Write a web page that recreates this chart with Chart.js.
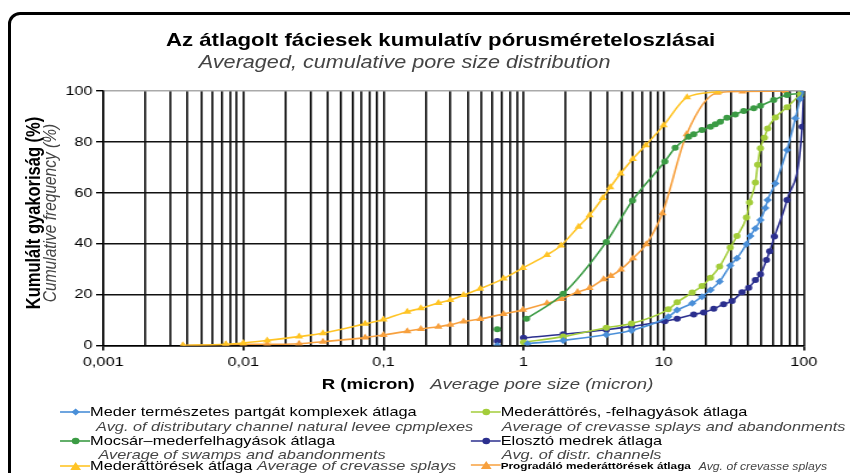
<!DOCTYPE html>
<html>
<head>
<meta charset="utf-8">
<script src="https://cdn.jsdelivr.net/npm/chart.js@4"></script>
<style>
html, body { margin: 0; padding: 0; background: #fff; width: 850px; height: 473px; overflow: hidden; }
#frame { position: absolute; left: 8px; top: 12px; width: 900px; height: 520px; border: 3px solid #000; border-radius: 12px; box-sizing: border-box; }
#stage { position: absolute; left: 0; top: 0; width: 708px; height: 473px; transform: scaleX(1.2006); transform-origin: 0 0; font-family: 'Liberation Sans', Arial, sans-serif; }
#stage canvas { position: absolute; left: 0; top: 0; }
.t { position: absolute; white-space: nowrap; color: #000; line-height: 18px; }
.c { transform: translateX(-50%); }
.it { font-style: italic; color: #444; }
.rot { transform: translate(-50%, -50%) rotate(-90deg); }
.leg { position: absolute; white-space: nowrap; font-size: 13.6px; line-height: 14px; }
.leg svg { vertical-align: -2px; }
</style>
</head>
<body>
<div id="frame"></div>
<div id="stage">
  <canvas id="myChart" width="708" height="473"></canvas>
  <div class="t c" style="left:367px; top:31px; font-size:18.5px; font-weight:bold;">Az átlagolt fáciesek kumulatív pórusméreteloszlásai</div>
  <div class="t c it" style="left:337px; top:53px; font-size:18px;">Averaged, cumulative pore size distribution</div>
  <div class="t" style="left:268px; top:375px; font-size:15.5px;"><b>R (micron)</b>&nbsp;&nbsp; <span class="it">Average pore size (micron)</span></div>
  <div class="t rot" style="left:27px; top:213px; font-size:16.5px; font-weight:bold;">Kumulált gyakoriság (%)</div>
  <div class="t rot it" style="left:42px; top:213px; font-size:15.5px;">Cumulative frequency (%)</div>
  <div id="legend"></div>
</div>
<script>
// x = pore radius (micron), y = cumulative frequency (%)
var lightBlueX = [0.65, 0.8, 1.07, 1.92, 3.9, 5.9, 10.8, 12.5, 16, 18.8, 21.6, 25.1, 29.9, 33.4, 39, 41.6, 45.2, 49.1, 53.2, 55.3, 62.8, 76, 87.3, 94.6, 100];
var lightBlueY = [0, null, 0.7, 2, 4.2, 5.9, 11.3, 13.9, 16.6, 19.2, 21.8, 25.1, 31.4, 34.3, 39.8, 43, 46, 49.3, 54, 57.2, 63.7, 76.8, 89.3, 97, 100];

var lightGreenX = [1.0, 1.92, 3.9, 5.9, 10.8, 12.5, 16, 18.8, 21.6, 25.1, 29.9, 33.4, 39, 41.1, 45.2, 46.9, 49.1, 52.4, 55.3, 62.8, 76, 94.6];
var lightGreenY = [1.3, 3.5, 7, 8.6, 14.2, 17, 20.8, 23.4, 26.6, 31, 38.5, 43, 50.3, 56.2, 64, 71, 77.5, 81.6, 85.3, 89.6, 93.6, 98.6];

var greenX = [0.65, 0.8, 1.05, 1.92, 3.9, 6.0, 10.2, 12.1, 15.1, 16.4, 18.8, 21.6, 23.4, 25.4, 28.3, 32.5, 37.3, 44, 49.1, 61.1, 76, 97.5];
var greenY = [6.4, null, 10.5, 20.3, 40.7, 57, 72.3, 77.7, 82, 83, 84.7, 86, 86.9, 87.9, 89.5, 90.8, 92.1, 93.2, 94.2, 96.5, 98.4, 99.1];

var darkBlueX = [0.65, 0.8, 1.0, 1.92, 3.9, 5.9, 10.2, 12.5, 16.4, 19.3, 22.8, 26.8, 30.8, 36.3, 40.5, 45.2, 49.1, 54.2, 57.2, 61.8, 76, 97.5, 100];
var darkBlueY = [1.8, null, 3, 4.4, 6.2, 7.5, 9.5, 10.5, 12.2, 13, 14.4, 16.2, 17.5, 20.9, 22.7, 25.7, 28, 33.6, 37, 42.8, 57.2, 86, 100];

var yellowX = [0.0037, 0.0075, 0.01, 0.0148, 0.025, 0.037, 0.074, 0.1, 0.148, 0.185, 0.247, 0.3, 0.373, 0.49, 0.72, 0.99, 1.47, 1.85, 2.47, 2.96, 3.68, 4.16, 4.93, 6.03, 7.46, 10, 14.7, 24.6];
var yellowY = [0, 0.5, 1, 2, 3.5, 4.8, 8.5, 10.2, 13.3, 14.6, 16.7, 17.9, 19.8, 22.3, 26.3, 30.5, 35.6, 39.3, 46.7, 51.2, 58, 62.2, 67.6, 73.3, 78.7, 86.5, 97.5, 99.7];

var orangeX = [0.0037, 0.0075, 0.01, 0.0148, 0.025, 0.037, 0.074, 0.1, 0.148, 0.185, 0.247, 0.3, 0.373, 0.49, 0.72, 0.99, 1.47, 1.87, 2.43, 2.96, 3.73, 4.2, 4.96, 6.05, 7.52, 9.8, 14.6, 24.2, 36.6, 74];
var orangeY = [0, 0.3, 0.5, 0.5, 0.7, 1.5, 3.1, 4.1, 5.6, 6.5, 7.4, 8.2, 9.4, 10.4, 12.4, 14, 16.6, 18.3, 21, 22.6, 26, 27.3, 29.9, 34.3, 39.8, 52, 83, 99.3, 99.8, 100];

var xTickValues = [0.001, 0.01, 0.1, 1, 10, 100];
var xTickLabels = ['0,001', '0,01', '0,1', '1', '10', '100'];
var yTicks = [0, 20, 40, 60, 80, 100];

var series = [
    { name: 'Meder  természetes partgát komplexek átlaga', sub: 'Avg. of distributary channel    natural levee cpmplexes', xs: lightBlueX, ys: lightBlueY, color: '#4a8fd8', style: 'rectRot', r: 3.5 },
    { name: 'Mederáttörés, -felhagyások átlaga', sub: 'Average of crevasse splays and abandonments', xs: lightGreenX, ys: lightGreenY, color: '#a3cd3a', style: 'circle', r: 3 },
    { name: 'Mocsár\u2013mederfelhagyások átlaga', sub: 'Average of swamps and abandonments', xs: greenX, ys: greenY, color: '#3b9b44', style: 'circle', r: 3 },
    { name: 'Elosztó medrek átlaga', sub: 'Avg. of distr. channels', xs: darkBlueX, ys: darkBlueY, color: '#2b2f8e', style: 'circle', r: 3 },
    { name: 'Mederáttörések átlaga', sub: 'Average of crevasse splays', xs: yellowX, ys: yellowY, color: '#ffc425', style: 'triangle', r: 4 },
    { name: 'Progradáló mederáttörések átlaga', sub: 'Avg. of crevasse splays', xs: orangeX, ys: orangeY, color: '#f7a03e', style: 'triangle', r: 4 }
];

Chart.defaults.font.family = "'Liberation Sans', Arial, sans-serif";
Chart.defaults.color = '#000';

var datasets = series.map(function (s) {
    return {
        label: s.name,
        data: s.xs.map(function (x, i) { return { x: x, y: s.ys[i] }; }),
        borderColor: s.color,
        backgroundColor: s.color,
        borderWidth: 1.6,
        pointStyle: s.style,
        pointRadius: s.r,
        pointHoverRadius: s.r,
        pointBorderWidth: 0,
        showLine: true,
        spanGaps: false,
        cubicInterpolationMode: 'monotone',
        fill: false
    };
});

createChart = () => {
    chart = new Chart(document.getElementById('myChart'), {
        type: 'scatter',
        data: { datasets: datasets },
        options: {
            responsive: false,
            animation: false,
            devicePixelRatio: 1,
            layout: { padding: { left: 0, right: 38.6, top: 91, bottom: 87.5 } },
            plugins: { legend: { display: false }, tooltip: { enabled: false } },
            scales: {
                x: {
                    type: 'logarithmic',
                    min: 0.001,
                    max: 100,
                    afterBuildTicks: scale => {
                        let t = [];
                        for (let d = -3; d < 2; d++) {
                            for (let m = 1; m < 10; m++) {
                                t.push({ value: Number((m * Math.pow(10, d)).toPrecision(3)) });
                            }
                        }
                        t.push({ value: 100 });
                        scale.ticks = t;
                    },
                    afterFit: scale => { scale.height = 40; },
                    grid: {
                        color: '#111',
                        lineWidth: 1.7,
                        tickLength: 5,
                        tickColor: ctx => xTickValues.indexOf(ctx.tick.value) >= 0 ? '#000' : 'rgba(0,0,0,0)'
                    },
                    border: { color: '#000', width: 1.5 },
                    ticks: {
                        autoSkip: false,
                        maxRotation: 0,
                        padding: 4,
                        font: { size: 13.5 },
                        callback: v => {
                            let i = xTickValues.indexOf(v);
                            return i >= 0 ? xTickLabels[i] : '';
                        }
                    }
                },
                y: {
                    min: 0,
                    max: 100,
                    afterBuildTicks: scale => { scale.ticks = yTicks.map(v => ({ value: v })); },
                    afterFit: scale => { scale.width = 86; },
                    grid: {
                        color: ctx => ctx.tick.value === 100 ? '#aaa' : '#111',
                        lineWidth: 1.4,
                        tickLength: 6,
                        tickColor: '#000'
                    },
                    border: { color: '#000', width: 1.5 },
                    ticks: { padding: 3, font: { size: 13.5 } }
                }
            }
        }
    });
};

createChart();

// legend, two columns
function legendIcon(s) {
    let m;
    if (s.style === 'triangle') {
        m = '<polygon points="13,2 17.5,10 8.5,10" fill="' + s.color + '"/>';
    } else if (s.style === 'rectRot') {
        m = '<polygon points="13,2.5 16.5,6 13,9.5 9.5,6" fill="' + s.color + '"/>';
    } else {
        m = '<circle cx="13" cy="6" r="3.2" fill="' + s.color + '"/>';
    }
    return '<svg width="25" height="12"><line x1="0" y1="6" x2="26" y2="6" stroke="' + s.color + '" stroke-width="1.6"/>' + m + '</svg>';
}

var legendPos = [
    { x: 50, y: 405, subX: 80, subY: 420 },
    { x: 392, y: 405, subX: 418, subY: 420 },
    { x: 50, y: 434, subX: 82, subY: 448 },
    { x: 392, y: 434, subX: 418, subY: 448 },
    { x: 50, y: 459, subX: 214, subY: 459 },
    { x: 392, y: 459, subX: 582, subY: 460 }
];

var html = '';
series.forEach((s, i) => {
    let p = legendPos[i];
    let small = i === 5 ? 'font-size:9.8px;font-weight:bold;' : '';
    html += '<div class="leg" style="left:' + p.x + 'px; top:' + p.y + 'px;' + small + '">' + legendIcon(s) + s.name + '</div>';
    html += '<div class="leg it" style="left:' + p.subX + 'px; top:' + p.subY + 'px;' + (i === 5 ? 'font-size:10.2px;' : '') + '">' + s.sub + '</div>';
});
document.getElementById('legend').innerHTML = html;
</script>
</body>
</html>
